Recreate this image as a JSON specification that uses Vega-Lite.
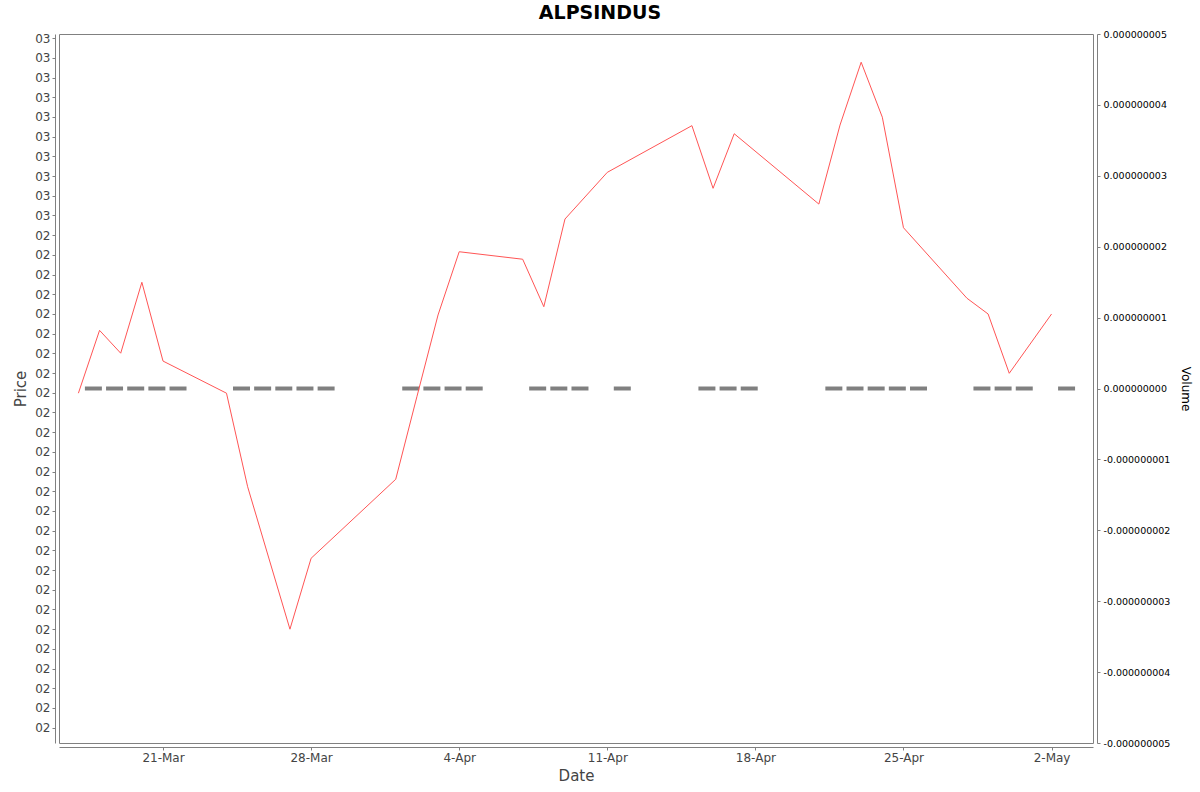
{
  "$schema": "https://vega.github.io/schema/vega-lite/v6.json",
  "width": 1034,
  "height": 709,
  "autosize": {"type": "none"},
  "padding": {"left": 59, "top": 34, "right": 107, "bottom": 49},
  "title": {
    "text": "ALPSINDUS",
    "font": "DejaVu Sans",
    "fontSize": 19,
    "fontWeight": "bold",
    "color": "#000000",
    "anchor": "middle",
    "dx": 24,
    "baseline": "bottom",
    "offset": -13
  },
  "data": {
    "values": [
      {"Date": "2025-03-17", "Price": 0.024118, "Volume": 0},
      {"Date": "2025-03-18", "Price": 0.024437, "Volume": 0},
      {"Date": "2025-03-19", "Price": 0.024321, "Volume": 0},
      {"Date": "2025-03-20", "Price": 0.024681, "Volume": 0},
      {"Date": "2025-03-21", "Price": 0.024281, "Volume": 0},
      {"Date": "2025-03-24", "Price": 0.024118, "Volume": 0},
      {"Date": "2025-03-25", "Price": 0.023643, "Volume": 0},
      {"Date": "2025-03-26", "Price": 0.023281, "Volume": 0},
      {"Date": "2025-03-27", "Price": 0.022920, "Volume": 0},
      {"Date": "2025-03-28", "Price": 0.023280, "Volume": 0},
      {"Date": "2025-04-01", "Price": 0.023681, "Volume": 0},
      {"Date": "2025-04-02", "Price": 0.024100, "Volume": 0},
      {"Date": "2025-04-03", "Price": 0.024515, "Volume": 0},
      {"Date": "2025-04-04", "Price": 0.024836, "Volume": 0},
      {"Date": "2025-04-07", "Price": 0.024798, "Volume": 0},
      {"Date": "2025-04-08", "Price": 0.024557, "Volume": 0},
      {"Date": "2025-04-09", "Price": 0.025002, "Volume": 0},
      {"Date": "2025-04-11", "Price": 0.025239, "Volume": 0},
      {"Date": "2025-04-15", "Price": 0.025476, "Volume": 0},
      {"Date": "2025-04-16", "Price": 0.025158, "Volume": 0},
      {"Date": "2025-04-17", "Price": 0.025435, "Volume": 0},
      {"Date": "2025-04-21", "Price": 0.025078, "Volume": 0},
      {"Date": "2025-04-22", "Price": 0.025479, "Volume": 0},
      {"Date": "2025-04-23", "Price": 0.025798, "Volume": 0},
      {"Date": "2025-04-24", "Price": 0.025519, "Volume": 0},
      {"Date": "2025-04-25", "Price": 0.024958, "Volume": 0},
      {"Date": "2025-04-28", "Price": 0.024600, "Volume": 0},
      {"Date": "2025-04-29", "Price": 0.024520, "Volume": 0},
      {"Date": "2025-04-30", "Price": 0.024219, "Volume": 0},
      {"Date": "2025-05-02", "Price": 0.024520, "Volume": 0}
    ]
  },
  "encoding": {
    "x": {
      "field": "Date",
      "type": "temporal",
      "title": "Date",
      "scale": {
        "type": "utc",
        "domain": [
          {"year": 2025, "month": 3, "date": 16, "hours": 2, "utc": true},
          {"year": 2025, "month": 5, "date": 3, "hours": 23, "utc": true}
        ]
      },
      "axis": {
        "values": [
          {"year": 2025, "month": 3, "date": 21, "utc": true},
          {"year": 2025, "month": 3, "date": 28, "utc": true},
          {"year": 2025, "month": 4, "date": 4, "utc": true},
          {"year": 2025, "month": 4, "date": 11, "utc": true},
          {"year": 2025, "month": 4, "date": 18, "utc": true},
          {"year": 2025, "month": 4, "date": 25, "utc": true},
          {"year": 2025, "month": 5, "date": 2, "utc": true}
        ],
        "labelExpr": "utcFormat(datum.value, '%-d-%b')",
        "offset": 4,
        "labelPadding": 2,
        "titlePadding": 5,
        "labelOverlap": false,
        "labelFlush": false
      }
    }
  },
  "layer": [
    {
      "mark": {
        "type": "tick",
        "orient": "horizontal",
        "color": "#808080",
        "opacity": 1,
        "size": 17,
        "thickness": 4,
        "xOffset": 15
      },
      "encoding": {
        "y": {
          "field": "Volume",
          "type": "quantitative",
          "title": "Volume",
          "scale": {"domain": [-0.000000005, 0.000000005], "nice": false, "zero": false},
          "axis": {
            "orient": "right",
            "offset": 4,
            "values": [-0.000000005, -0.000000004, -0.000000003, -0.000000002, -0.000000001, 0, 0.000000001, 0.000000002, 0.000000003, 0.000000004, 0.000000005],
            "labelExpr": "replace(format(datum.value, '.9f'), '\u2212', '-')",
            "labelColor": "#000000",
            "labelFontSize": 9.5,
            "labelPadding": 3,
            "labelFlush": false,
            "labelOverlap": false,
            "titleColor": "#000000",
            "titleFontSize": 12,
            "titleAngle": 90,
            "titlePadding": 9
          }
        }
      }
    },
    {
      "mark": {"type": "line", "color": "#ff5555", "strokeWidth": 1},
      "encoding": {
        "y": {
          "field": "Price",
          "type": "quantitative",
          "title": "Price",
          "scale": {"domain": [0.0223423, 0.0259413], "nice": false, "zero": false},
          "axis": {
            "orient": "left",
            "offset": 4,
            "values": [0.02242, 0.02252, 0.02262, 0.02272, 0.02282, 0.02292, 0.02302, 0.02312, 0.02322, 0.02332, 0.02342, 0.02352, 0.02362, 0.02372, 0.02382, 0.02392, 0.02402, 0.02412, 0.02422, 0.02432, 0.02442, 0.02452, 0.02462, 0.02472, 0.02482, 0.02492, 0.02502, 0.02512, 0.02522, 0.02532, 0.02542, 0.02552, 0.02562, 0.02572, 0.02582, 0.02592],
            "labelExpr": "slice(format(datum.value, '.2f'), 2)",
            "labelPadding": 2,
            "labelFlush": false,
            "labelOverlap": false,
            "titlePadding": 6
          }
        }
      }
    }
  ],
  "resolve": {"scale": {"y": "independent"}},
  "config": {
    "font": "DejaVu Sans",
    "view": {"stroke": "#808080"},
    "axis": {
      "grid": false,
      "domainColor": "#808080",
      "tickColor": "#808080",
      "tickSize": 3,
      "labelFont": "DejaVu Sans",
      "titleFont": "DejaVu Sans",
      "labelColor": "#444444",
      "titleColor": "#444444",
      "labelFontSize": 12,
      "titleFontSize": 15,
      "titleFontWeight": "normal"
    }
  }
}
